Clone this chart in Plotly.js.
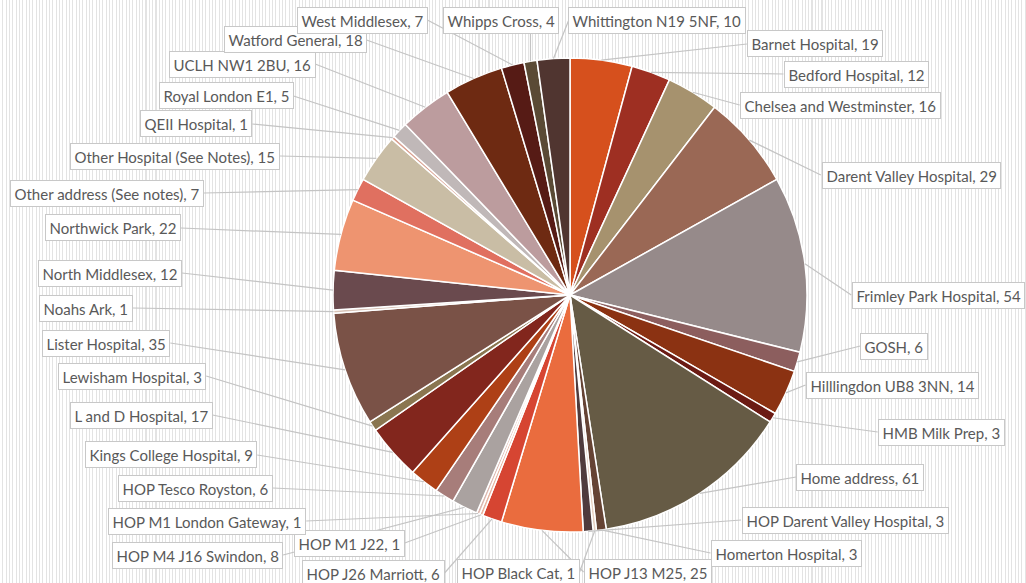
<!DOCTYPE html>
<html><head><meta charset="utf-8">
<script src="https://cdn.plot.ly/plotly-3.0.1.min.js"></script>
<style>
html,body{margin:0;padding:0;}
body{width:1026px;height:583px;overflow:hidden;
background:#ffffff repeating-linear-gradient(90deg,#ffffff 0px,#ffffff 2.3px,#e3e3e3 2.3px,#e3e3e3 3.33px);}
#chart{width:1026px;height:583px;}
</style></head>
<body><div id="chart"></div>
<script>
// ---- data ----
const categories = ["Barnet Hospital","Bedford Hospital","Chelsea and Westminster","Darent Valley Hospital","Frimley Park Hospital","GOSH","Hilllingdon UB8 3NN","HMB Milk Prep","Home address","Homerton Hospital","HOP Black Cat","HOP Darent Valley Hospital","HOP J13 M25","HOP J26 Marriott","HOP M1 J22","HOP M1 London Gateway","HOP M4 J16 Swindon","HOP Tesco Royston","Kings College Hospital","L and D Hospital","Lewisham Hospital","Lister Hospital","Noahs Ark","North Middlesex","Northwick Park","Other address (See notes)","Other Hospital (See Notes)","QEII Hospital","Royal London E1","UCLH NW1 2BU","Watford General","West Middlesex","Whipps Cross","Whittington N19 5NF"];
const counts = [19,12,16,29,54,6,14,3,61,3,1,3,25,6,1,1,8,6,9,17,3,35,1,12,22,7,15,1,5,16,18,7,4,10];

// ---- styles / layout ----
const sliceColors = ["#d6501d","#9e2f22","#a6926e","#9a6855","#968a8a","#8c5e5e","#8b3212","#6b1b14","#665b45","#654334","#e6cfc0","#4f3b3d","#ea6c3e","#d64532","#e8b4a0","#dcb8b0","#aaa2a0","#a77d7a","#ae4016","#82261d","#8a7650","#7a5247","#d9c4b8","#6a4a4e","#ee9470","#e07060","#c9bda5","#d9a090","#c0b8b8","#bc9c9e","#6e2a12","#561b15","#5a4a35","#503530"];
// label box centres in page pixels
const labelCenters = [[815,44],[856,74],[840,105],[911,175],[938,295],[894,346],[892,385],[941,432],[860,477],[786,553],[518,572],[845,520],[648,572],[373,573],[349,543],[207,521],[197,555],[195,488],[171,455],[141,415],[132,376],[106,343],[86,308],[110,273],[113,228],[107,193],[175,156],[196,124],[226,96],[242,64],[295,40],[362,20],[501,20],[657,21]];

const W = 1026, H = 583;
const CX = 570, CY = 295, R = 237;
const FONT = "Lato", FS = 15, PAD = 3.5, BH = 24;

const ctx = document.createElement("canvas").getContext("2d");
ctx.font = FS + "px " + FONT;

const total = counts.reduce((a,b)=>a+b,0);
const shapes = [], annotations = [];
let cum = 0;
counts.forEach((v,i)=>{
  const mid = (cum + v/2)/total*2*Math.PI; cum += v;
  const px = CX + R*Math.sin(mid), py = CY - R*Math.cos(mid);
  const txt = categories[i] + ", " + v;
  const tw = ctx.measureText(txt).width;
  const [lx,ly] = labelCenters[i];
  const hw = tw/2 + PAD + 1, hh = BH/2;
  let ax, ay;
  if (px > lx + hw) { ax = lx + hw; ay = ly; }
  else if (px < lx - hw) { ax = lx - hw; ay = ly; }
  else if (py > ly + hh) { ax = Math.max(lx-hw, Math.min(lx+hw, px)); ay = ly + hh; }
  else { ax = Math.max(lx-hw, Math.min(lx+hw, px)); ay = ly - hh; }
  shapes.push({type:"line", xref:"paper", yref:"paper", x0:px/W, y0:1-py/H, x1:ax/W, y1:1-ay/H,
               line:{color:"#c4c4c4", width:1.2}});
  annotations.push({xref:"paper", yref:"paper", x:lx/W, y:1-ly/H, xanchor:"center", yanchor:"middle",
    text:txt, showarrow:false, bgcolor:"#ffffff", bordercolor:"#c8c8c8", borderwidth:1, borderpad:PAD,
    font:{family:FONT, size:FS, color:"#595959"}});
});

const trace = {
  type:"pie", labels:categories, values:counts, sort:false, direction:"clockwise", rotation:0,
  textinfo:"none", hoverinfo:"label+value",
  marker:{colors:sliceColors, line:{color:"#ffffff", width:1.5}},
  domain:{x:[(CX-R)/W,(CX+R)/W], y:[1-(CY+R)/H, 1-(CY-R)/H]},
  showlegend:false
};
const layout = {
  width:W, height:H, margin:{l:0,r:0,t:0,b:0},
  paper_bgcolor:"rgba(0,0,0,0)", plot_bgcolor:"rgba(0,0,0,0)",
  shapes:shapes, annotations:annotations, showlegend:false
};
Plotly.newPlot("chart",[trace],layout,{displayModeBar:false, staticPlot:true});
</script>
</body></html>
